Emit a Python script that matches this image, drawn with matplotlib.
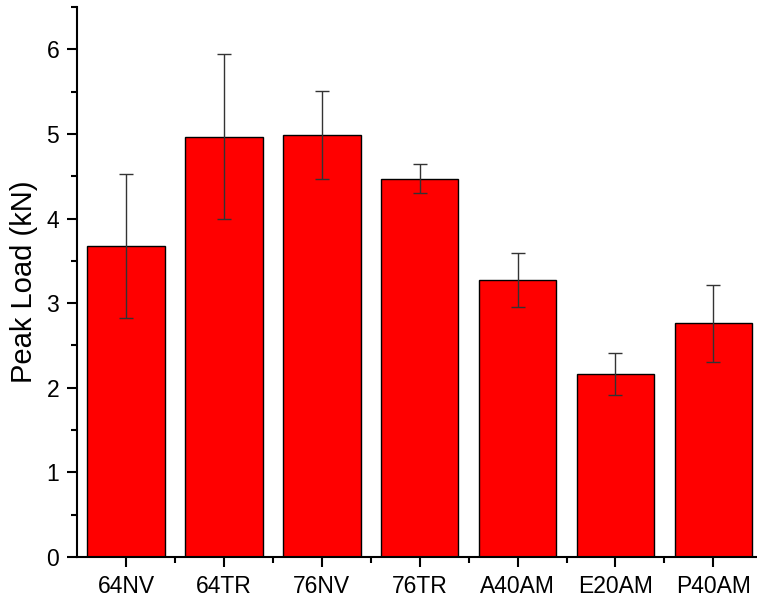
import numpy as np
import matplotlib.pyplot as plt
from matplotlib.ticker import MultipleLocator, FixedLocator

plt.rcParams['font.family'] = ['Liberation Sans', 'DejaVu Sans']

# Data
samples = ['64NV', '64TR', '76NV', '76TR', 'A40AM', 'E20AM', 'P40AM']
peak_load = [3.68, 4.97, 4.99, 4.47, 3.27, 2.16, 2.76]
peak_err = [0.85, 0.98, 0.52, 0.17, 0.32, 0.25, 0.46]

fig = plt.figure(figsize=(7.57, 6.0), dpi=100)
ax = fig.add_axes([0.102, 0.072, 0.905, 0.916])

x = np.arange(len(samples))
ax.bar(x, peak_load, width=0.79, color='#ff0000', edgecolor='black', linewidth=1.0,
       yerr=peak_err, error_kw=dict(ecolor='#333333', elinewidth=1.0, capsize=5, capthick=1.0))

ax.set_xlim(-0.5, 6.5)
ax.set_ylim(0, 6.5)
ax.set_xticks(x)
ax.set_xticklabels(samples)
ax.xaxis.set_minor_locator(FixedLocator(x[:-1] + 0.5))
ax.yaxis.set_major_locator(MultipleLocator(1))
ax.yaxis.set_minor_locator(MultipleLocator(0.5))

ax.set_ylabel('Peak Load (kN)', fontsize=21, labelpad=6)
ax.tick_params(axis='both', which='major', labelsize=16.5, length=7, width=1.5,
               direction='out', pad=6)
ax.tick_params(axis='both', which='minor', length=4, width=1.5, direction='out')

for side in ['top', 'right']:
    ax.spines[side].set_visible(False)
for side in ['left', 'bottom']:
    ax.spines[side].set_linewidth(1.5)

fig.savefig('out.png', dpi=100)
